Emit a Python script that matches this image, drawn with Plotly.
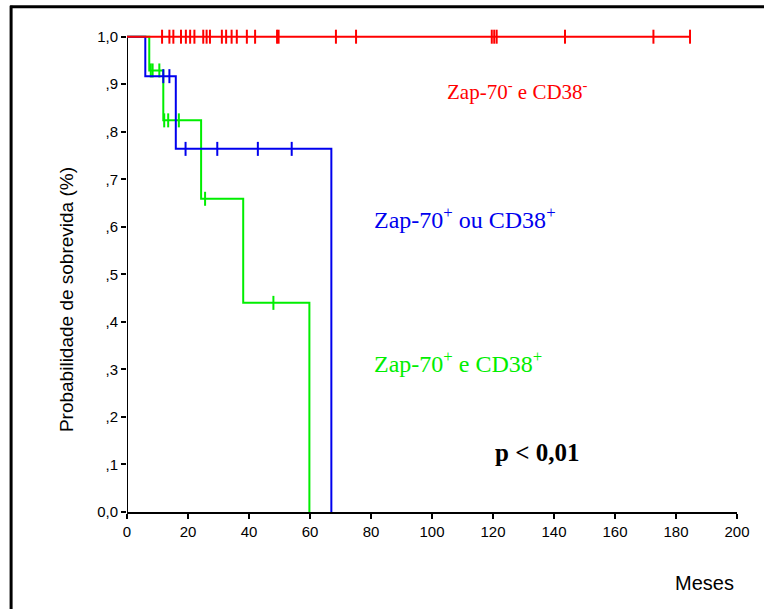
import plotly.graph_objects as go

# ---------------- data ----------------
x_ticks = [0, 20, 40, 60, 80, 100, 120, 140, 160, 180, 200]
y_tickvals = [0.0, 0.1, 0.2, 0.3, 0.4, 0.5, 0.6, 0.7, 0.8, 0.9, 1.0]
y_ticktext = ["0,0", ",1", ",2", ",3", ",4", ",5", ",6", ",7", ",8", ",9", "1,0"]

# Zap-70- e CD38- (red): no events
red_event_times = []
red_event_surv = []
red_censor_times = [11.5, 13.9, 15.2, 17.7, 19.3, 20.7, 22.1, 25.0, 26.1, 27.2,
                    31.1, 32.5, 34.3, 36.0, 39.3, 42.0, 49.2, 49.7, 68.5, 75.1,
                    119.6, 120.4, 121.2, 143.6, 172.6, 184.6]

# Zap-70+ ou CD38+ (blue)
blue_event_times = [6.0, 16.0, 67.0]
blue_event_surv = [0.917, 0.764, 0.0]
blue_censor_times = [11.9, 13.9, 19.2, 29.6, 42.9, 54.0]

# Zap-70+ e CD38+ (green)
green_event_times = [7.3, 11.9, 24.3, 38.1, 59.8]
green_event_surv = [0.929, 0.824, 0.659, 0.44, 0.0]
green_censor_times = [7.8, 8.4, 10.6, 12.2, 13.5, 17.0, 25.6, 48.0]

# ---------------- layout geometry ----------------
W, H = 764, 609
YTOP = 1.012                     # a little headroom so the 1,0 line is not clipped
L, R = 127, 26.5
Y0PX, Y1PX = 511.7, 37.0         # pixel rows of 0,0 and 1,0
B = H - Y0PX
T = Y1PX - (Y0PX - Y1PX) * (YTOP - 1.0)
PW = W - L - R
PH = H - T - B


def px2x(px):
    return (px - L) / PW


def py2y(py):
    return (H - B - py) / PH


def step_xy(ev_t, ev_s, censors):
    xs, ys = [0.0], [1.0]
    s = 1.0
    for t, v in zip(ev_t, ev_s):
        xs.append(t)
        ys.append(v)
        s = v
    end = max(censors + ev_t) if (censors or ev_t) else 0
    if s > 0 and end > xs[-1]:
        xs.append(end)
        ys.append(s)
    return xs, ys


def surv_at(t, ev_t, ev_s):
    s = 1.0
    for et, v in zip(ev_t, ev_s):
        if et <= t:
            s = v
    return s


fig = go.Figure()

groups = [
    ("green", "#00ee00", green_event_times, green_event_surv, green_censor_times),
    ("blue", "#0000ee", blue_event_times, blue_event_surv, blue_censor_times),
    ("red", "#ff0000", red_event_times, red_event_surv, red_censor_times),
]

for name, col, et, es, ct in groups:
    xs, ys = step_xy(et, es, ct)
    fig.add_trace(go.Scatter(x=xs, y=ys, mode="lines", line=dict(color=col, width=2, shape="hv"),
                             cliponaxis=False, showlegend=False, hoverinfo="skip"))
    fig.add_trace(go.Scatter(x=ct, y=[surv_at(t, et, es) for t in ct], mode="markers",
                             marker=dict(symbol="line-ns-open", size=10, color=col,
                                         line=dict(color=col, width=2)),
                             cliponaxis=False, showlegend=False, hoverinfo="skip"))

sans = "Liberation Sans, Arial, sans-serif"
tickfont = dict(family=sans, size=15, color="black")

fig.update_xaxes(range=[0, 200], tickvals=x_ticks, ticktext=[str(v) for v in x_ticks],
                 showline=True, linecolor="black", linewidth=2, ticks="outside", ticklen=5,
                 tickwidth=2, tickcolor="black", showgrid=False, zeroline=False,
                 tickfont=tickfont)
fig.update_yaxes(range=[0, YTOP], tickvals=y_tickvals, ticktext=y_ticktext,
                 showline=False, ticks="outside", ticklen=5,
                 tickwidth=2, tickcolor="black", showgrid=False, zeroline=False,
                 tickfont=tickfont)

# y-axis line only from 0,0 to 1,0
fig.add_shape(type="line", xref="x", yref="y", x0=0, x1=0, y0=0, y1=1.0,
              line=dict(color="black", width=2), layer="below")

serif = "Liberation Serif, Times New Roman, serif"
fig.add_annotation(text="Zap-70<sup>-</sup> e CD38<sup>-</sup>", x=px2x(445), y=py2y(91),
                   xref="paper", yref="paper", showarrow=False, xanchor="left", yanchor="middle",
                   font=dict(family=serif, size=21, color="#ff0000"))
fig.add_annotation(text="Zap-70<sup>+</sup> ou CD38<sup>+</sup>", x=px2x(372), y=py2y(218),
                   xref="paper", yref="paper", showarrow=False, xanchor="left", yanchor="middle",
                   font=dict(family=serif, size=24, color="#0000ee"))
fig.add_annotation(text="Zap-70<sup>+</sup> e CD38<sup>+</sup>", x=px2x(372), y=py2y(362),
                   xref="paper", yref="paper", showarrow=False, xanchor="left", yanchor="middle",
                   font=dict(family=serif, size=24, color="#00ee00"))

fig.add_annotation(text="<b>p &lt; 0,01</b>", x=px2x(493), y=py2y(452), xref="paper", yref="paper",
                   showarrow=False, xanchor="left", yanchor="middle",
                   font=dict(family=serif, size=25, color="black"))
fig.add_annotation(text="Meses", x=px2x(705), y=py2y(583), xref="paper", yref="paper",
                   showarrow=False, xanchor="center", yanchor="middle",
                   font=dict(family=sans, size=20, color="black"))
fig.add_annotation(text="Probabilidade de sobrevida (%)", x=px2x(66), y=py2y(300), xref="paper", yref="paper",
                   showarrow=False, xanchor="center", yanchor="middle", textangle=-90,
                   font=dict(family=sans, size=19, color="black"))

# outer frame (top and left edges visible)
fig.add_shape(type="line", xref="paper", yref="paper", x0=px2x(10), x1=px2x(770), y0=py2y(7), y1=py2y(7),
              line=dict(color="black", width=3))
fig.add_shape(type="line", xref="paper", yref="paper", x0=px2x(11), x1=px2x(11), y0=py2y(6), y1=py2y(615),
              line=dict(color="black", width=3))

fig.update_layout(width=W, height=H, margin=dict(l=L, r=R, t=T, b=B, autoexpand=False),
                  paper_bgcolor="white", plot_bgcolor="white", showlegend=False)

fig.write_html("out.html")
